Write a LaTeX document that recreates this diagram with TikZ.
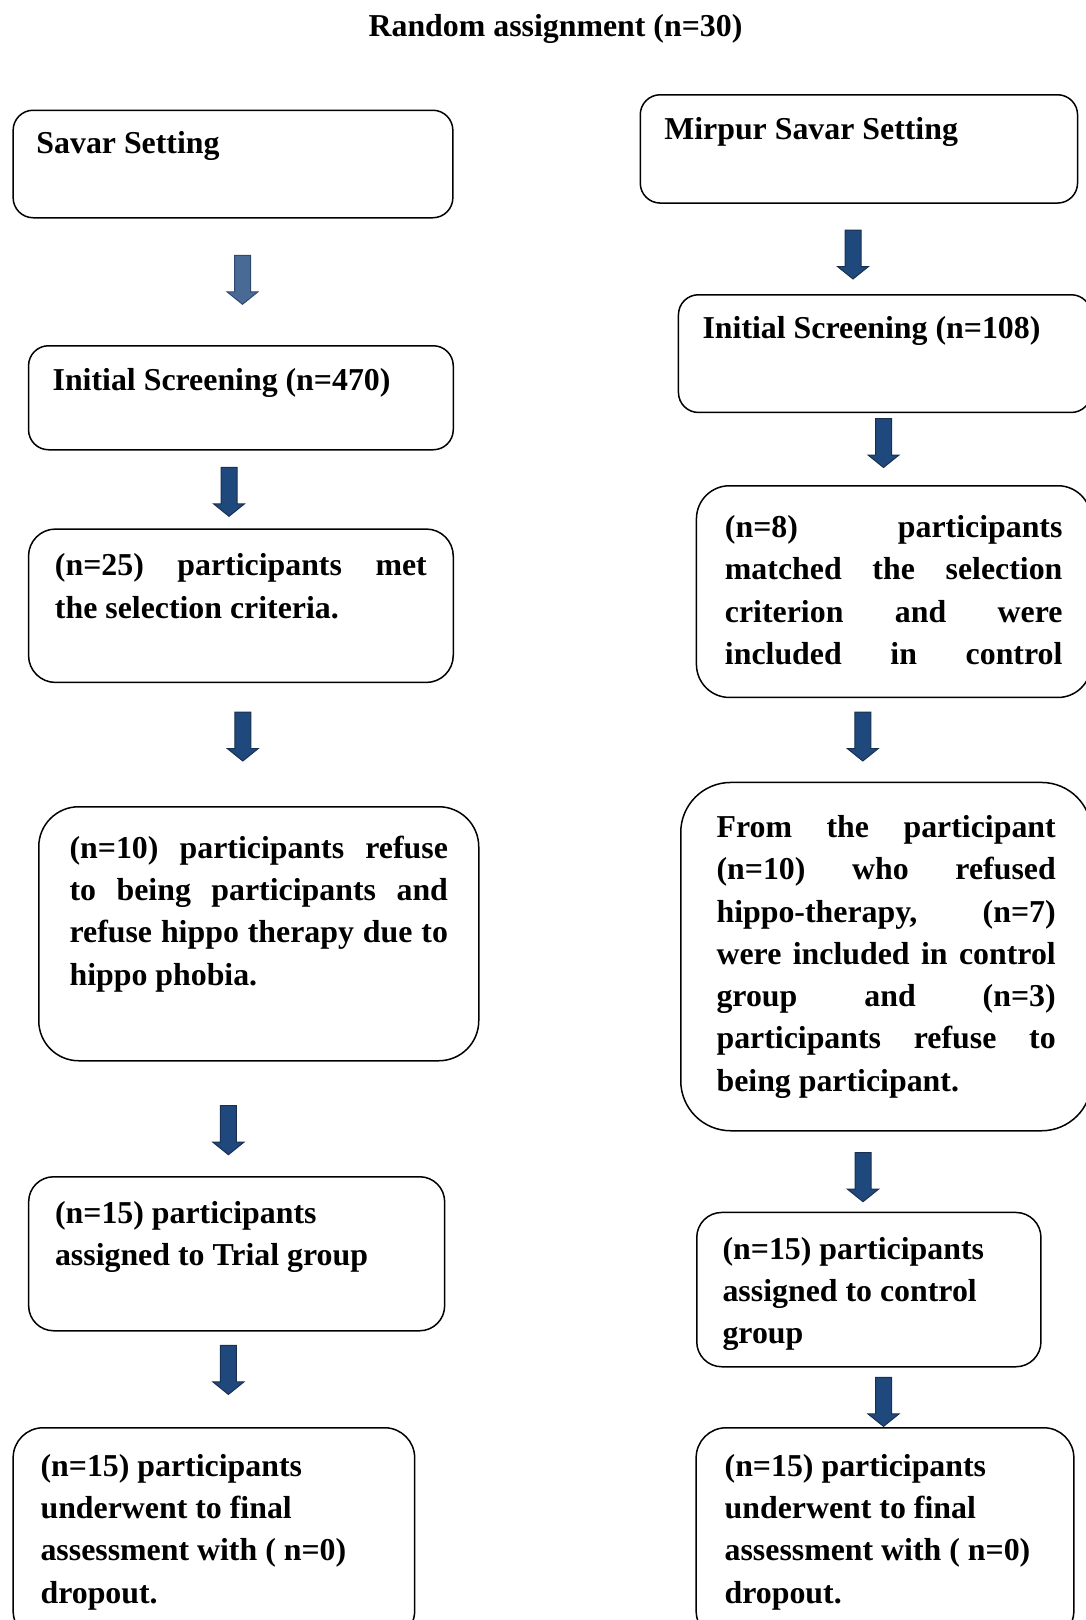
\documentclass[tikz,border=0pt]{standalone}
\usepackage{fontspec}
\setmainfont{Liberation Serif}

\definecolor{arrfill}{HTML}{1F497D}
\definecolor{arrline}{HTML}{1A3050}
\definecolor{arrlight}{HTML}{4A6A96}
\definecolor{arrlightline}{HTML}{2E4A70}

\tikzset{
  boxfont/.style={font=\bfseries\fontsize{31.85}{42.3}\selectfont},
  stage/.style={draw, line width=1.5pt, anchor=north west, align=flush left, inner ysep=0pt, boxfont},
  pics/downarr/.style 2 args={code={
    \draw[line width=1pt, draw=#2, fill=#1] (-8,0) -- (-8,36.5) -- (-15.5,36.5) -- (0,49) -- (15.5,36.5) -- (8,36.5) -- (8,0) -- cycle;
  }}
}

\begin{document}
\begin{tikzpicture}[x=1pt, y=-1pt]
    \useasboundingbox (0,0) rectangle (1086,1620);
    \clip (0,0) rectangle (1086,1620);
    \node[boxfont, anchor=base, inner sep=0pt] (title) at (555.5,36.2) {Random assignment (n=30)};

        % left column
    \node[stage, rounded corners=20pt, inner xsep=23.3pt, text width=393.1pt, text height=43.5pt, text depth=64pt] (savar) at (12.4,109.5) {Savar Setting};
    \node[stage, rounded corners=20pt, inner xsep=24.1pt, text width=376.5pt, text height=45pt, text depth=59pt] (screenL) at (27.8,345) {Initial Screening (n=470)};
    \node[stage, rounded corners=27pt, inner xsep=26.4pt, text width=371.9pt, text height=46.7pt, text depth=106.7pt] (selectL) at (27.8,528.3)
        {(n=25)\hfill participants\hfill met\\the selection criteria.};
    \node[stage, rounded corners=40pt, inner xsep=30.8pt, text width=378.4pt, text height=51.6pt, text depth=202.4pt] (refuseL) at (38,806)
        {(n=10)\hfill participants\hfill refuse\\to\hfill being\hfill participants\hfill and\\refuse\hfill hippo\hfill therapy\hfill due\hfill to\\hippo phobia.};
    \node[stage, rounded corners=25pt, inner xsep=26.4pt, text width=363.2pt, text height=46.4pt, text depth=107.6pt] (trial) at (27.9,1176)
        {(n=15) participants\\assigned to Trial group};
    \node[stage, rounded corners=30pt, inner xsep=27.4pt, text width=346.7pt, text height=48.6pt, text depth=164.4pt] (finalL) at (12.4,1427)
        {(n=15) participants\\underwent to final\\assessment with ( n=0)\\dropout.};

        % right column
    \node[stage, rounded corners=20pt, inner xsep=24pt, text width=389.3pt, text height=44.3pt, text depth=64pt] (mirpur) at (639.5,94) {Mirpur Savar Setting};
    \node[stage, rounded corners=20pt, inner xsep=24.1pt, text width=364.6pt, text height=43.5pt, text depth=74.2pt] (screenR) at (677.7,294) {Initial Screening (n=108)};
    \node[stage, rounded corners=33pt, inner xsep=28.5pt, text width=337.5pt, text height=51.7pt, text depth=160pt] (selectR) at (695.7,485)
        {(n=8)\hfill participants\\matched\hfill the\hfill selection\\criterion\hfill and\hfill were\\included\hfill in\hfill control};
    \node[stage, rounded corners=50pt, inner xsep=35.8pt, text width=339.2pt, text height=55pt, text depth=293.3pt] (refuseR) at (680,781.7)
        {From\hfill the\hfill participant\\(n=10)\hfill who\hfill refused\\hippo-therapy,\hfill (n=7)\\were\hfill included\hfill in\hfill control\\group\hfill and\hfill (n=3)\\participants\hfill refuse\hfill to\\being participant.};
    \node[stage, rounded corners=25pt, inner xsep=25.8pt, text width=292.6pt, text height=46.6pt, text depth=107.7pt] (control) at (696,1211.7)
        {(n=15) participants\\assigned to control\\group};
    \node[stage, rounded corners=30pt, inner xsep=28.5pt, text width=320.7pt, text height=48.6pt, text depth=164.4pt] (finalR) at (695.4,1427)
        {(n=15) participants\\underwent to final\\assessment with ( n=0)\\dropout.};

    \pic at (242.5,255.3) {downarr={arrlight}{arrlightline}};
    \foreach \ax/\ay in {229/467.3, 242.8/712, 228.4/1105.7, 228.4/1345.4, 853/230, 883.5/418.5, 862.8/712, 863/1152.7, 883.5/1377.4}{
        \pic at (\ax,\ay) {downarr={arrfill}{arrline}};
    }
\end{tikzpicture}
\end{document}
